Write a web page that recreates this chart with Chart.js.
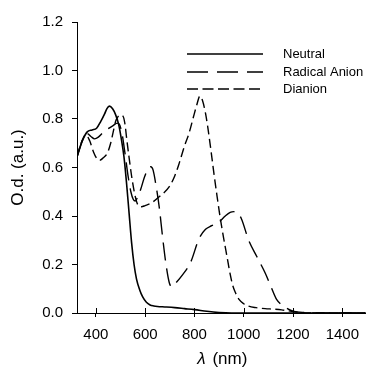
<!DOCTYPE html>
<html>
<head>
<meta charset="utf-8">
<script src="https://cdn.jsdelivr.net/npm/chart.js@4/dist/chart.umd.min.js"></script>
<style>
html,body{margin:0;padding:0;background:#fff;}
#wrap{width:368px;height:379px;position:relative;}
</style>
</head>
<body>
<div id="wrap"><canvas id="c"></canvas></div>
<script>
// ---- data ----
const seriesNames = ["Neutral", "Radical Anion", "Dianion"];

const neutralX = [324, 345, 365, 385, 403, 420, 435, 445, 455, 468, 480, 492, 503, 514, 525, 535, 545, 555, 565, 578, 590, 605, 620, 635, 650, 680, 720, 760, 800, 850, 900, 950, 1000, 1100, 1200, 1300, 1400, 1495];
const neutralY = [0.645, 0.71, 0.747, 0.755, 0.762, 0.79, 0.82, 0.843, 0.853, 0.842, 0.818, 0.78, 0.72, 0.645, 0.53, 0.41, 0.29, 0.20, 0.14, 0.095, 0.066, 0.044, 0.033, 0.029, 0.027, 0.025, 0.022, 0.018, 0.014, 0.007, 0.002, 0.0, 0.0, 0.0, 0.0, 0.0, 0.0, 0.0];

const radicalX = [324, 345, 365, 380, 395, 410, 430, 450, 470, 487, 497, 507, 518, 530, 542, 552, 560, 568, 582, 597, 612, 623, 632, 645, 658, 670, 684, 698, 710, 724, 750, 785, 818, 845, 870, 900, 925, 945, 960, 975, 990, 1020, 1053, 1087, 1110, 1134, 1167, 1200, 1250, 1300, 1400, 1495];
const radicalY = [0.645, 0.71, 0.74, 0.728, 0.718, 0.725, 0.745, 0.76, 0.773, 0.783, 0.775, 0.735, 0.66, 0.57, 0.5, 0.468, 0.462, 0.475, 0.51, 0.56, 0.595, 0.603, 0.59, 0.52, 0.43, 0.32, 0.205, 0.125, 0.108, 0.123, 0.155, 0.21, 0.305, 0.345, 0.36, 0.375, 0.40, 0.415, 0.418, 0.41, 0.39, 0.30, 0.233, 0.165, 0.11, 0.055, 0.025, 0.008, 0.002, 0.0, 0.0, 0.0];

const dianionX = [324, 340, 360, 375, 390, 405, 416, 430, 447, 460, 470, 480, 490, 500, 510, 518, 525, 535, 545, 557, 570, 585, 600, 624, 658, 698, 720, 738, 760, 778, 795, 810, 822, 833, 845, 855, 865, 879, 892, 905, 920, 932, 945, 955, 968, 980, 1000, 1020, 1050, 1087, 1120, 1154, 1194, 1230, 1280, 1400, 1495];
const dianionY = [0.645, 0.70, 0.735, 0.71, 0.665, 0.635, 0.63, 0.64, 0.66, 0.70, 0.745, 0.79, 0.81, 0.816, 0.812, 0.78, 0.72, 0.64, 0.565, 0.494, 0.447, 0.438, 0.443, 0.453, 0.48, 0.521, 0.565, 0.617, 0.69, 0.741, 0.805, 0.86, 0.894, 0.875, 0.823, 0.76, 0.686, 0.576, 0.48, 0.39, 0.30, 0.233, 0.16, 0.115, 0.08, 0.057, 0.038, 0.028, 0.022, 0.018, 0.016, 0.013, 0.007, 0.002, 0.0, 0.0, 0.0];

const xTickValues = [400, 600, 800, 1000, 1200, 1400];
const yTickValues = [0.0, 0.2, 0.4, 0.6, 0.8, 1.0, 1.2];
const xTitleSymbol = "\u03bb";
const xTitleUnit = " (nm)";
const yTitle = "O.d. (a.u.)";

// ---- build ----
function pts(xs, ys){ return xs.map((x,i)=>({x:x, y:ys[i]})); }

const FONT = "'Liberation Sans', Arial, sans-serif";

const legendPlugin = {
  id: 'customLegend',
  afterDraw(chart){
    const ctx = chart.ctx;
    const x0 = 187, x1 = 263, tx = 283;
    const ys = [54, 72, 89];
    ctx.save();
    chart.data.datasets.forEach((ds, i) => {
      ctx.beginPath();
      ctx.setLineDash(ds.legendDash || []);
      ctx.lineWidth = ds.borderWidth;
      ctx.strokeStyle = ds.borderColor;
      ctx.moveTo(x0, ys[i]);
      ctx.lineTo(x1, ys[i]);
      ctx.stroke();
      ctx.setLineDash([]);
      ctx.fillStyle = '#000';
      ctx.font = "13px " + FONT;
      ctx.textBaseline = 'middle';
      ctx.textAlign = 'left';
      ctx.fillText(ds.label, tx, ys[i]);
    });
    ctx.restore();
  }
};

const axisExtras = {
  id: 'axisExtras',
  afterDraw(chart){
    const ctx = chart.ctx;
    const xs = chart.scales.x;
    const ca = chart.chartArea;
    ctx.save();
    ctx.strokeStyle = '#000';
    ctx.lineWidth = 1;
    xs.ticks.forEach(t => {
      const px = Math.round(xs.getPixelForValue(t.value)) + 0.5;
      ctx.beginPath();
      ctx.moveTo(px, ca.bottom);
      ctx.lineTo(px, ca.bottom - 5);
      ctx.stroke();
    });
    // x-axis title: italic lambda + unit
    ctx.fillStyle = '#000';
    ctx.textBaseline = 'middle';
    ctx.textAlign = 'left';
    const f1 = "italic 17px " + FONT, f2 = "17px " + FONT;
    ctx.font = f1; const w1 = ctx.measureText(xTitleSymbol).width;
    ctx.font = f2; const w2 = ctx.measureText(xTitleUnit).width;
    const cx = (ca.left + ca.right) / 2;
    const sx = cx - (w1 + w2) / 2;
    const ty = 359;
    ctx.font = f1; ctx.fillText(xTitleSymbol, sx, ty);
    ctx.font = f2; ctx.fillText(xTitleUnit, sx + w1 + 2, ty);
    ctx.restore();
  }
};

new Chart(document.getElementById('c'), {
  type: 'line',
  data: {
    datasets: [
      { label: seriesNames[0], data: pts(neutralX, neutralY), borderColor: '#000', borderWidth: 1.6, borderDash: [], legendDash: [], pointRadius: 0, fill: false, cubicInterpolationMode: 'monotone' },
      { label: seriesNames[1], data: pts(radicalX, radicalY), borderColor: '#000', borderWidth: 1.4, borderDash: [18, 8], legendDash: [21, 9], pointRadius: 0, fill: false, cubicInterpolationMode: 'monotone' },
      { label: seriesNames[2], data: pts(dianionX, dianionY), borderColor: '#000', borderWidth: 1.4, borderDash: [9, 4.5], legendDash: [11, 4.5], pointRadius: 0, fill: false, cubicInterpolationMode: 'monotone' }
    ]
  },
  options: {
    responsive: true,
    maintainAspectRatio: false,
    animation: false,
    layout: { padding: { top: 22, right: 0, bottom: 0, left: 0 } },
    plugins: { legend: { display: false }, tooltip: { enabled: false } },
    scales: {
      x: {
        type: 'linear',
        min: 323.5, max: 1495,
        afterBuildTicks: (s) => { s.ticks = xTickValues.map(v => ({value: v})); },
        afterFit: (s) => { s.height = 66; },
        grid: { display: true, drawOnChartArea: false, drawTicks: true, tickLength: 4, color: '#000' },
        border: { display: true, color: '#000', width: 1 },
        ticks: { color: '#000', font: { size: 15, family: FONT }, padding: 9, maxRotation: 0, callback: (v) => String(v) },
        title: { display: false }
      },
      y: {
        type: 'linear',
        min: 0, max: 1.2,
        afterBuildTicks: (s) => { s.ticks = yTickValues.map(v => ({value: v})); },
        afterFit: (s) => { s.width = 77; },
        grid: { display: true, drawOnChartArea: false, drawTicks: true, tickLength: 5, color: '#000' },
        border: { display: true, color: '#000', width: 1 },
        ticks: { color: '#000', font: { size: 15, family: FONT }, padding: 9, callback: (v) => Number(v).toFixed(1) },
        title: { display: true, text: yTitle, color: '#000', font: { size: 17, family: FONT }, padding: { top: 8, bottom: 0 } }
      }
    }
  },
  plugins: [legendPlugin, axisExtras]
});
</script>
</body>
</html>
